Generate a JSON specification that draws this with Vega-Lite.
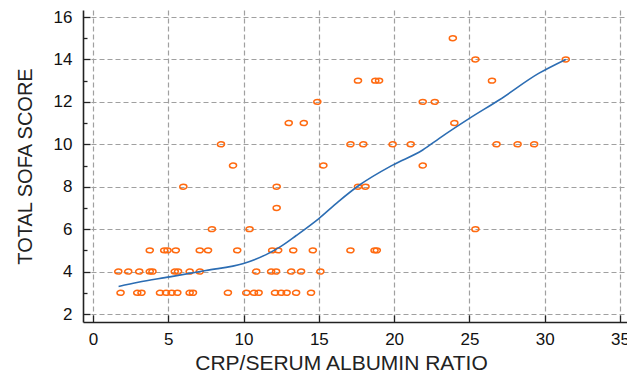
{
  "$schema": "https://vega.github.io/schema/vega-lite/v6.json",
  "width": 546,
  "height": 312,
  "autosize": "none",
  "padding": {"left": 83, "top": 10, "right": 0, "bottom": 53},
  "background": "white",
  "config": {
    "view": {"stroke": null},
    "axis": {
      "domainColor": "#222222",
      "domainWidth": 1.6,
      "tickColor": "#222222",
      "tickWidth": 1.3,
      "gridColor": "#a0a0a0",
      "gridDash": [5, 3],
      "gridWidth": 1.2,
      "labelFont": "Liberation Sans",
      "labelFontSize": 17,
      "labelColor": "#111111",
      "titleFont": "Liberation Sans",
      "titleFontWeight": "normal",
      "titleColor": "#222222"
    }
  },
  "datasets": {
    "pts": [
      {"ratio": 23.9, "sofa": 15},
      {"ratio": 25.4, "sofa": 14}, {"ratio": 31.4, "sofa": 14},
      {"ratio": 17.6, "sofa": 13}, {"ratio": 18.75, "sofa": 13}, {"ratio": 19.0, "sofa": 13}, {"ratio": 26.5, "sofa": 13},
      {"ratio": 14.9, "sofa": 12}, {"ratio": 21.9, "sofa": 12}, {"ratio": 22.7, "sofa": 12},
      {"ratio": 13.0, "sofa": 11}, {"ratio": 14.0, "sofa": 11}, {"ratio": 24.0, "sofa": 11},
      {"ratio": 8.5, "sofa": 10}, {"ratio": 17.1, "sofa": 10}, {"ratio": 17.95, "sofa": 10}, {"ratio": 19.9, "sofa": 10}, {"ratio": 21.1, "sofa": 10}, {"ratio": 26.8, "sofa": 10}, {"ratio": 28.2, "sofa": 10}, {"ratio": 29.3, "sofa": 10},
      {"ratio": 9.3, "sofa": 9}, {"ratio": 15.3, "sofa": 9}, {"ratio": 21.9, "sofa": 9},
      {"ratio": 6.0, "sofa": 8}, {"ratio": 12.2, "sofa": 8}, {"ratio": 17.6, "sofa": 8}, {"ratio": 18.1, "sofa": 8},
      {"ratio": 12.2, "sofa": 7},
      {"ratio": 7.9, "sofa": 6}, {"ratio": 10.4, "sofa": 6}, {"ratio": 25.4, "sofa": 6},
      {"ratio": 3.77, "sofa": 5}, {"ratio": 4.73, "sofa": 5}, {"ratio": 4.95, "sofa": 5}, {"ratio": 5.5, "sofa": 5}, {"ratio": 7.09, "sofa": 5}, {"ratio": 7.64, "sofa": 5}, {"ratio": 9.58, "sofa": 5}, {"ratio": 11.9, "sofa": 5}, {"ratio": 12.3, "sofa": 5}, {"ratio": 13.3, "sofa": 5}, {"ratio": 14.6, "sofa": 5}, {"ratio": 17.1, "sofa": 5}, {"ratio": 18.7, "sofa": 5}, {"ratio": 18.85, "sofa": 5},
      {"ratio": 1.68, "sofa": 4}, {"ratio": 2.34, "sofa": 4}, {"ratio": 3.07, "sofa": 4}, {"ratio": 3.77, "sofa": 4}, {"ratio": 3.95, "sofa": 4}, {"ratio": 5.43, "sofa": 4}, {"ratio": 5.65, "sofa": 4}, {"ratio": 6.42, "sofa": 4}, {"ratio": 7.09, "sofa": 4}, {"ratio": 10.84, "sofa": 4}, {"ratio": 11.83, "sofa": 4}, {"ratio": 12.16, "sofa": 4}, {"ratio": 13.16, "sofa": 4}, {"ratio": 13.82, "sofa": 4}, {"ratio": 15.1, "sofa": 4},
      {"ratio": 1.83, "sofa": 3}, {"ratio": 2.94, "sofa": 3}, {"ratio": 3.22, "sofa": 3}, {"ratio": 4.45, "sofa": 3}, {"ratio": 4.85, "sofa": 3}, {"ratio": 5.22, "sofa": 3}, {"ratio": 5.6, "sofa": 3}, {"ratio": 6.42, "sofa": 3}, {"ratio": 6.64, "sofa": 3}, {"ratio": 8.96, "sofa": 3}, {"ratio": 10.18, "sofa": 3}, {"ratio": 10.69, "sofa": 3}, {"ratio": 11.0, "sofa": 3}, {"ratio": 12.09, "sofa": 3}, {"ratio": 12.49, "sofa": 3}, {"ratio": 12.86, "sofa": 3}, {"ratio": 13.49, "sofa": 3}, {"ratio": 14.48, "sofa": 3}
    ],
    "curve": [
      {"ratio": 1.7, "sofa": 3.3},
      {"ratio": 3.0, "sofa": 3.5},
      {"ratio": 5.1, "sofa": 3.75},
      {"ratio": 7.5, "sofa": 4.05},
      {"ratio": 10.0, "sofa": 4.38},
      {"ratio": 11.5, "sofa": 4.8},
      {"ratio": 12.4, "sofa": 5.15},
      {"ratio": 13.5, "sofa": 5.7},
      {"ratio": 15.0, "sofa": 6.5},
      {"ratio": 16.3, "sofa": 7.3},
      {"ratio": 17.7, "sofa": 8.08},
      {"ratio": 19.9, "sofa": 9.02},
      {"ratio": 21.9, "sofa": 9.73},
      {"ratio": 23.0, "sofa": 10.28},
      {"ratio": 25.0, "sofa": 11.22},
      {"ratio": 27.0, "sofa": 12.1},
      {"ratio": 29.6, "sofa": 13.34},
      {"ratio": 31.4, "sofa": 14.0}
    ]
  },
  "layer": [
    {
      "data": {"name": "pts"},
      "mark": {"type": "point", "shape": "M -1.3 0 A 1.3 0.9 0 1 0 1.3 0 A 1.3 0.9 0 1 0 -1.3 0 Z", "filled": false, "size": 30, "stroke": "#ff6a10", "strokeWidth": 1.5, "opacity": 1},
      "encoding": {
        "x": {
          "field": "ratio", "type": "quantitative",
          "scale": {"domain": [-0.664, 35.6], "nice": false, "zero": false},
          "axis": {"values": [0, 5, 10, 15, 20, 25, 30, 35], "tickSize": -7, "labelPadding": 16, "title": "CRP/SERUM ALBUMIN RATIO", "titleFontSize": 21, "titlePadding": 5, "titleX": 258, "grid": true, "labelFlush": false}
        },
        "y": {
          "field": "sofa", "type": "quantitative",
          "scale": {"domain": [1.623, 16.33], "nice": false, "zero": false},
          "axis": {"values": [2, 4, 6, 8, 10, 12, 14, 16], "tickSize": -7, "labelPadding": 18, "title": "TOTAL SOFA SCORE", "titleFontSize": 20, "titlePadding": 18, "grid": true, "labelFlush": false}
        }
      }
    },
    {
      "data": {"name": "curve"},
      "mark": {"type": "line", "color": "#2c6db3", "strokeWidth": 1.6, "interpolate": "monotone"},
      "encoding": {
        "x": {"field": "ratio", "type": "quantitative"},
        "y": {
          "field": "sofa", "type": "quantitative",
          "axis": {"orient": "left", "values": [3, 5, 7, 9, 11, 13, 15], "tickSize": -4, "labels": false, "domain": false, "grid": false, "title": null}
        }
      }
    }
  ],
  "resolve": {"axis": {"y": "independent"}}
}
